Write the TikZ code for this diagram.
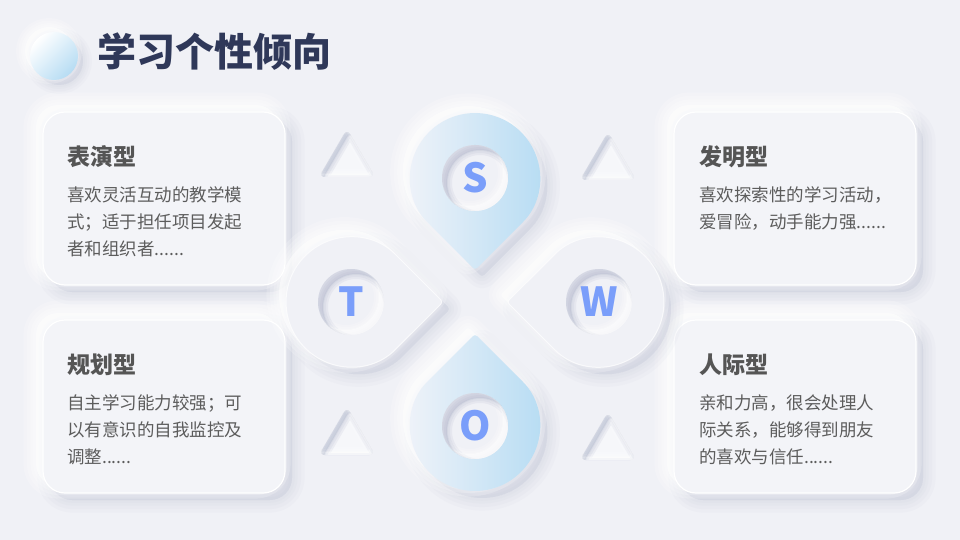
\documentclass[tikz,border=0pt]{standalone}
\usepackage{fontspec}
\setmainfont{Noto Sans CJK SC}
\usetikzlibrary{positioning}
\definecolor{neubg}{RGB}{240,241,246}
\definecolor{neucard}{RGB}{243,244,248}
\definecolor{neulight}{RGB}{246,247,250}
\definecolor{neudark}{RGB}{178,184,205}
\definecolor{neunavy}{RGB}{47,56,89}
\definecolor{neutitle}{RGB}{85,85,85}
\definecolor{neutext}{RGB}{92,92,92}
\definecolor{neuletter}{RGB}{122,158,250}
\definecolor{neublue}{RGB}{182,220,243}
\definecolor{neupale}{RGB}{240,243,249}
\tikzset{
  cardtitle/.style={anchor=west, inner sep=0pt, font=\bfseries\fontsize{23}{28}\selectfont, text=neutitle},
  cardbody/.style={inner sep=0pt, align=left, font=\fontsize{17.5}{27}\selectfont, text=neutext},
  swotletter/.style={inner sep=0pt, font=\bfseries\fontsize{40}{44}\selectfont, text=neuletter},
  cardface/.style={fill=neucard, draw=white, line width=1.2pt},
  dropface/.style={fill=neubg, draw=white, line width=1pt, draw opacity=0.7},
  bluedrop/.style={left color=neupale, right color=neublue}
}
% soft raised shadow: #1 offset, #2 options, #3 path
\newcommand{\neuraise}[3][7]{%
  \foreach \w in {3.6,2.6,1.6,0.8}{
    \path[shift={(#1,#1)}, #2, fill=neudark, draw=neudark, line width=\w*#1pt, opacity=0.06, line join=round] #3;}
  \foreach \w in {3.6,2.6,1.6,0.8}{
    \path[shift={(-#1,-#1)}, #2, fill=white, draw=white, line width=\w*#1pt, opacity=0.2, line join=round] #3;}
}
% soft inner shadow: #1 offset, #2 options, #3 path
\newcommand{\neuinset}[3][5]{%
  \begin{scope}
    \path[#2, clip] #3;
    \foreach \w in {10,6,2}{
      \path[shift={(-#1,-#1)}, #2, fill=white, draw=white, line width=\w pt, opacity=0.2, even odd rule] (-2000,-2000) rectangle (2000,2000) #3;
      \path[shift={(#1,#1)}, #2, fill=neudark, draw=neudark, line width=\w pt, opacity=0.16, even odd rule] (-2000,-2000) rectangle (2000,2000) #3;}
  \end{scope}
}
\newcommand{\droppath}{(0,-32) -- (46,-78) arc[start angle=45, end angle=-225, radius=65] -- cycle}
\newcommand{\tripath}{(0,0) -- (28,48) -- (-28,48) -- cycle}

\begin{document}
\begin{tikzpicture}[x=1pt, y=-1pt]
  \fill[neubg] (0,0) rectangle (960,540);
  \useasboundingbox (0,0) rectangle (960,540);

  % title
  \neuraise[5]{}{(54,56) circle[radius=24]}
  \path[shading=axis, top color=white, bottom color=neublue, shading angle=45] (54,56) circle[radius=24];
  \node[anchor=west, inner sep=0pt, font=\bfseries\fontsize{39}{44}\selectfont, text=neunavy] (heading) at (97,52) {学习个性倾向};

  % cards
  \foreach \cx/\cy in {43/112, 43/320, 674/112, 674/320}{
    \neuraise{rounded corners=22pt}{(\cx,\cy) rectangle ++(242,173)}
    \path[cardface, rounded corners=22pt] (\cx,\cy) rectangle ++(242,173);
  }

  % triangles
  \foreach \tx/\ty in {347/129, 608/132, 347/407, 608/412}{
    \fill[neulight, shift={(\tx,\ty)}, rounded corners=6pt] \tripath;
    \neuinset[3]{shift={(\tx,\ty)}, rounded corners=6pt}{\tripath}
  }

  % swot drops
  \foreach \ang/\ys in {90/1, -90/1, 0/1, 0/-1}{
    \neuraise{shift={(475,302)}, rotate=\ang, yscale=\ys, rounded corners=3pt}{\droppath}
  }
  \path[dropface, shift={(475,302)}, rotate=90, rounded corners=3pt] \droppath;
  \path[dropface, shift={(475,302)}, rotate=-90, rounded corners=3pt] \droppath;
  \path[bluedrop, shift={(475,302)}, rounded corners=3pt] \droppath;
  \path[bluedrop, shift={(475,302)}, yscale=-1, rounded corners=3pt] \droppath;

  \foreach \hx/\hy in {475/178, 599/302, 475/426, 351/302}{
    \fill[neubg] (\hx,\hy) circle[radius=33];
    \neuinset{}{(\hx,\hy) circle[radius=33]}
  }
  \coordinate (s-c) at (475,178);
  \coordinate (w-c) at (599,302);
  \coordinate (o-c) at (475,426);
  \coordinate (t-c) at (351,302);
  \node[swotletter] (s) at (s-c) {S};
  \node[swotletter] (w) at (w-c) {W};
  \node[swotletter] (o) at (o-c) {O};
  \node[swotletter] (t) at (t-c) {T};

  % card texts
  \node[cardtitle] (perform) at (67,157) {表演型};
  \node[cardbody, below right=18pt and 0pt of perform.south west] (perform-txt) {喜欢灵活互动的教学模\\式；适于担任项目发起\\者和组织者......};
  \node[cardtitle] (plan) at (67,365) {规划型};
  \node[cardbody, below right=18pt and 0pt of plan.south west] (plan-txt) {自主学习能力较强；可\\以有意识的自我监控及\\调整......};
  \node[cardtitle] (invent) at (699,157) {发明型};
  \node[cardbody, below right=18pt and 0pt of invent.south west] (invent-txt) {喜欢探索性的学习活动，\\爱冒险，动手能力强......};
  \node[cardtitle] (social) at (699,365) {人际型};
  \node[cardbody, below right=18pt and 0pt of social.south west] (social-txt) {亲和力高，很会处理人\\际关系，能够得到朋友\\的喜欢与信任......};
\end{tikzpicture}
\end{document}
